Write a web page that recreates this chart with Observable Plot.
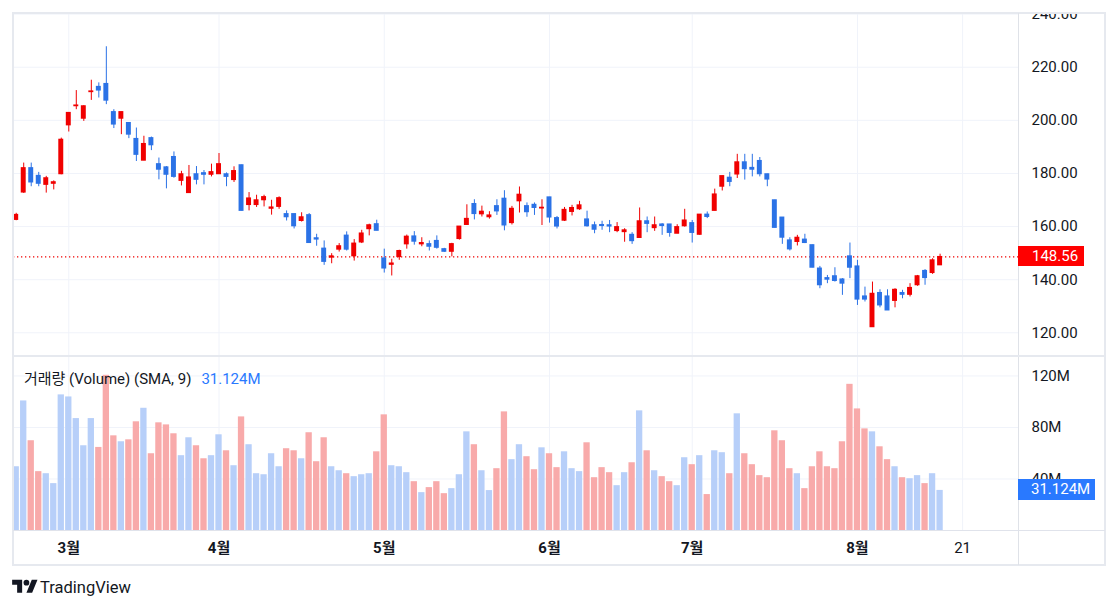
<!DOCTYPE html>
<html><head><meta charset="utf-8">
<script src="https://cdn.jsdelivr.net/npm/d3@7"></script>
<script src="https://cdn.jsdelivr.net/npm/@observablehq/plot@0.6"></script>
<style>
body{margin:0;background:#fff;}
#wrap{position:relative;width:1118px;height:609px;overflow:hidden;font-family:Roboto,"Noto Sans CJK KR",sans-serif;color:#131722;background:#fff;}
.abs{position:absolute;}
#wrap svg{overflow:hidden;}
</style></head><body><div id="wrap"></div>
<script>
const dates = ["2024-02-21","2024-02-22","2024-02-23","2024-02-26","2024-02-27","2024-02-28","2024-02-29",
"2024-03-01","2024-03-04","2024-03-05","2024-03-06","2024-03-07","2024-03-08","2024-03-11","2024-03-12","2024-03-13","2024-03-14","2024-03-15","2024-03-18","2024-03-19","2024-03-20","2024-03-21","2024-03-22","2024-03-25","2024-03-26","2024-03-27","2024-03-28",
"2024-04-01","2024-04-02","2024-04-03","2024-04-04","2024-04-05","2024-04-08","2024-04-09","2024-04-10","2024-04-11","2024-04-12","2024-04-15","2024-04-16","2024-04-17","2024-04-18","2024-04-19","2024-04-22","2024-04-23","2024-04-24","2024-04-25","2024-04-26","2024-04-29","2024-04-30",
"2024-05-01","2024-05-02","2024-05-03","2024-05-06","2024-05-07","2024-05-08","2024-05-09","2024-05-10","2024-05-13","2024-05-14","2024-05-15","2024-05-16","2024-05-17","2024-05-20","2024-05-21","2024-05-22","2024-05-23","2024-05-24","2024-05-28","2024-05-29","2024-05-30","2024-05-31",
"2024-06-03","2024-06-04","2024-06-05","2024-06-06","2024-06-07","2024-06-10","2024-06-11","2024-06-12","2024-06-13","2024-06-14","2024-06-17","2024-06-18","2024-06-20","2024-06-21","2024-06-24","2024-06-25","2024-06-26","2024-06-27","2024-06-28",
"2024-07-01","2024-07-02","2024-07-03","2024-07-05","2024-07-08","2024-07-09","2024-07-10","2024-07-11","2024-07-12","2024-07-15","2024-07-16","2024-07-17","2024-07-18","2024-07-19","2024-07-22","2024-07-23","2024-07-24","2024-07-25","2024-07-26","2024-07-29","2024-07-30","2024-07-31",
"2024-08-01","2024-08-02","2024-08-05","2024-08-06","2024-08-07","2024-08-08","2024-08-09","2024-08-12","2024-08-13","2024-08-14","2024-08-15","2024-08-16"];

const open = [162.5,172.8,182.0,179.1,175.7,176.1,179.7,
198.1,205.3,200.6,210.6,212.6,213.7,203.1,200.6,199.0,193.0,184.8,193.3,183.5,182.3,186.2,177.2,172.6,179.7,180.1,179.5,
179.7,179.7,177.5,183.1,168.1,168.1,169.9,166.7,167.4,164.7,164.7,162.1,164.3,155.6,151.7,148.3,151.3,156.6,148.8,154.0,159.0,160.9,
148.0,145.6,148.5,153.3,156.3,153.3,153.4,154.6,151.5,150.5,155.3,160.6,168.5,164.6,163.5,167.7,170.5,161.3,169.5,167.7,168.2,166.8,
171.0,163.2,162.2,165.5,166.5,162.7,160.5,160.6,160.5,158.3,157.9,156.9,155.7,162.0,159.4,160.8,160.8,157.3,160.1,
161.3,156.9,164.5,165.9,175.0,178.4,179.6,184.2,182.1,184.7,179.7,169.9,163.4,154.8,154.2,155.1,153.0,144.2,140.6,141.3,140.1,148.8,
145.0,133.7,122.1,135.0,133.7,132.0,135.0,134.3,137.9,143.3,142.5,145.4];

const high = [165.0,183.9,183.9,180.4,178.9,177.2,193.3,
202.8,211.2,205.5,215.1,214.1,227.7,204.0,203.1,199.0,197.1,194.0,193.7,185.8,182.6,188.1,180.8,183.0,182.6,181.1,183.5,
187.5,180.2,182.5,183.1,172.8,171.8,171.8,169.9,171.2,165.9,164.7,165.2,164.9,157.1,154.6,149.8,153.6,158.0,155.1,158.6,160.9,162.4,
151.5,147.7,151.1,156.8,158.1,155.8,154.6,156.5,151.8,153.7,160.0,168.2,170.1,167.7,165.6,170.1,173.5,167.6,174.9,168.9,168.9,170.1,
171.0,163.8,167.2,168.0,169.5,165.8,161.7,162.0,162.3,161.5,159.2,157.7,167.0,163.6,163.6,161.1,160.8,160.7,166.5,
162.3,164.5,165.5,174.1,179.0,180.4,187.2,187.2,187.2,186.0,179.7,169.9,163.4,155.8,156.7,157.1,153.0,145.0,141.6,144.5,140.4,153.8,
147.3,137.2,139.1,136.2,136.2,136.6,136.0,138.5,141.6,143.8,147.9,149.6];

const low = [162.2,172.5,175.0,175.0,172.6,173.8,179.5,
195.6,204.0,199.6,207.5,208.4,205.9,196.9,194.6,193.1,184.5,184.8,188.6,177.6,174.2,178.2,175.3,172.6,175.7,175.7,178.7,
179.7,175.0,176.6,165.9,165.9,167.2,167.4,164.3,166.5,162.1,159.1,161.7,153.8,152.6,145.4,146.0,150.4,150.8,147.0,153.6,156.5,158.4,
142.5,141.4,147.3,151.5,153.0,152.4,150.8,151.5,150.3,148.6,154.9,160.4,162.5,163.6,162.8,164.2,158.4,160.6,165.1,163.5,164.2,160.4,
161.3,159.1,161.9,164.0,166.1,159.8,157.3,158.6,157.7,157.7,154.1,153.3,155.7,157.7,158.2,156.7,156.0,157.3,159.8,
153.8,156.7,163.0,165.9,173.4,175.0,178.1,177.5,178.7,178.7,175.0,159.5,153.3,150.8,152.7,153.6,144.5,136.6,138.5,139.1,134.1,140.4,
130.3,131.6,122.1,129.4,128.4,129.4,132.8,133.5,137.5,137.9,142.0,145.4];

const close = [164.4,182.0,176.6,176.1,178.2,176.7,192.7,
202.8,205.6,205.3,210.9,211.2,207.4,198.4,203.1,194.6,187.0,191.1,190.6,181.4,179.5,178.7,179.7,178.5,177.6,179.5,180.5,
183.5,178.7,180.9,165.9,170.6,169.9,171.1,167.2,170.7,163.5,160.1,163.5,153.8,155.1,146.7,148.8,152.6,151.3,153.6,157.4,160.5,158.4,
144.2,146.1,150.8,156.2,154.3,153.8,152.4,152.0,150.5,153.4,160.0,162.9,164.7,165.6,164.2,165.7,160.4,166.7,172.0,165.4,167.0,167.1,
163.4,160.0,166.3,167.0,168.0,160.1,158.8,160.2,160.0,159.8,158.6,154.5,162.0,161.0,160.5,160.2,157.6,159.8,162.3,
157.6,164.5,163.6,172.1,179.0,176.8,184.2,181.6,181.4,179.7,177.7,159.5,155.8,151.4,155.8,153.8,144.5,137.9,140.0,139.5,138.5,144.5,
132.5,132.5,134.7,130.3,128.4,136.2,134.3,136.9,141.3,140.6,147.3,148.56];

// volume in millions
const volume = [49.5,100.6,69.7,45.7,44.1,36.4,105.3,
103.7,86.9,65.8,86.9,64.5,120.5,73.5,68.9,70.4,84.4,94.9,59.6,83.6,82.0,75.1,58.1,72.0,65.8,55.7,58.1,
74.3,61.9,50.3,88.2,66.6,44.1,43.3,59.6,49.5,63.5,61.9,55.7,75.9,53.4,72.0,49.5,46.4,44.1,41.8,43.3,44.1,61.1,
89.8,50.3,49.5,44.9,37.9,29.4,33.3,37.9,28.6,32.5,43.3,76.6,66.6,46.4,31.0,48.0,92.1,55.0,66.6,57.3,47.2,64.2,
59.6,48.8,61.1,48.0,45.7,68.1,41.0,48.8,44.9,34.8,44.9,52.6,92.9,61.9,46.4,41.8,37.9,34.8,56.5,
51.1,58.1,27.9,61.9,60.4,44.1,90.6,59.6,51.1,42.6,41.0,77.4,69.7,48.0,44.1,32.5,49.5,61.1,49.5,48.0,68.9,113.5,
94.4,78.9,76.6,65.0,55.0,49.5,41.0,40.2,42.6,36.4,44.1,31.124];

const futureDates = ["2024-08-19","2024-08-20","2024-08-21"];
const tickDates = ["2024-03-01","2024-04-01","2024-05-01","2024-06-03","2024-07-01","2024-08-01","2024-08-21"];
const tickLabels = ["3월","4월","5월","6월","7월","8월","21"];
const priceTicks = [120,140,160,180,200,220,240];
const volumeTicks = [40,80,120];
const legendTitle = "거래량 (Volume) (SMA, 9)";
const smaValue = "31.124M";

// ---- build ----
const UP = "#f00000", DOWN = "#2b72e6";
const VUP = "#b7cff9", VDOWN = "#f8aaaa";
const GRID = "#f0f3fa";
const FONT = 'Roboto,"Noto Sans CJK KR",sans-serif';

const bars = dates.map((d,i)=>({i, date:d, o:open[i], h:high[i], l:low[i], c:close[i], v:volume[i], up: close[i] >= open[i]}));
const allDates = dates.concat(futureDates);
const tickIdx = tickDates.map(d => allDates.indexOf(d));
const lastClose = close[close.length-1];

const W = 1118;
const xDom = [-0.36, 133.44];
const wrap = document.getElementById("wrap");

const price = Plot.plot({
  width: W, height: 343, marginLeft: 13, marginRight: 100, marginTop: 0, marginBottom: 0,
  x: {type: "linear", domain: xDom, axis: null, label: null},
  y: {domain: [111.08, 240.22], axis: null, label: null},
  style: {fontFamily: FONT, fontSize: "15px", background: "transparent", color: "#131722"},
  marks: [
    Plot.gridX(tickIdx, {stroke: GRID, strokeOpacity: 1}),
    Plot.gridY(priceTicks, {stroke: GRID, strokeOpacity: 1}),
    Plot.axisY(priceTicks, {anchor: "right", label: null, tickSize: 0, tickPadding: 13, tickFormat: d3.format(".2f"), fill: "#131722"}),
    Plot.ruleY([lastClose], {stroke: UP, strokeWidth: 1.3, strokeDasharray: "1.3,2.7"}),
    Plot.ruleX(bars, {x: "i", y1: "l", y2: "h", stroke: d => d.up ? UP : DOWN, strokeWidth: 1}),
    Plot.rect(bars, {x1: d => d.i - 0.33, x2: d => d.i + 0.33, y1: d => Math.min(d.o, d.c), y2: d => Math.max(d.o, d.c),
      fill: d => d.up ? UP : DOWN, insetTop: -0.5, insetBottom: -0.5})
  ]
});
price.style.position = "absolute"; price.style.left = "0px"; price.style.top = "13px";
wrap.appendChild(price);

const vol = Plot.plot({
  width: W, height: 209, marginLeft: 13, marginRight: 100, marginTop: 0, marginBottom: 35,
  x: {type: "linear", domain: xDom, axis: null, label: null},
  y: {domain: [0, 135.1], axis: null, label: null},
  style: {fontFamily: FONT, fontSize: "15px", background: "transparent", color: "#131722"},
  marks: [
    Plot.gridX(tickIdx, {stroke: GRID, strokeOpacity: 1}),
    Plot.gridY(volumeTicks, {stroke: GRID, strokeOpacity: 1}),
    Plot.axisY(volumeTicks, {anchor: "right", label: null, tickSize: 0, tickPadding: 13, tickFormat: d => d + "M", fill: "#131722"}),
    Plot.axisX(tickIdx, {anchor: "bottom", label: null, tickSize: 0, tickPadding: 12, tickFormat: d => tickLabels[tickIdx.indexOf(d)], fill: "#131722"}),
    Plot.rectY(bars, {x1: d => d.i - 0.42, x2: d => d.i + 0.42, y: "v", fill: d => d.up ? VUP : VDOWN})
  ]
});
vol.style.position = "absolute"; vol.style.left = "0px"; vol.style.top = "356px";
wrap.appendChild(vol);
d3.select(vol).selectAll("text").filter(function(){ return /월/.test(this.textContent); }).attr("font-weight", "bold");

// overlays: frame & separators
function box(css){ const d = document.createElement("div"); d.className = "abs"; Object.assign(d.style, css); wrap.appendChild(d); return d; }
box({left:"12px", top:"12px", width:"1094px", height:"554px", border:"2px solid #e6e9ef", boxSizing:"border-box"});
box({left:"1018px", top:"13px", width:"1px", height:"552px", background:"#dfe2e8"});
box({left:"13px", top:"355px", width:"1092px", height:"2px", background:"#e6e9ef"});
box({left:"13px", top:"530px", width:"1092px", height:"1px", background:"#e0e3eb"});

// price label
const py = 13 + price.scale("y").apply(lastClose);
const pl = box({left:"1018px", top:(py - 10) + "px", width:"66px", height:"20px", background:"#ff0000", color:"#fff",
  font:"15px " + FONT, lineHeight:"20px", paddingLeft:"14px", boxSizing:"border-box"});
pl.textContent = d3.format(".2f")(lastClose);

// volume label
const vy = 356 + vol.scale("y").apply(volume[volume.length-1]);
const vl = box({left:"1018px", top:(vy - 10.5) + "px", width:"77px", height:"21px", background:"#2979ff", color:"#fff",
  font:"15px " + FONT, lineHeight:"21px", paddingLeft:"13px", boxSizing:"border-box"});
vl.textContent = smaValue;

// legend
const lg = box({left:"24px", top:"367px", font:"15px " + FONT, color:"#131722", whiteSpace:"nowrap"});
lg.innerHTML = legendTitle + '<span style="color:#2979ff;margin-left:10px">' + smaValue + '</span>';

// TradingView logo
const logo = box({left:"12px", top:"577px", whiteSpace:"nowrap", display:"flex", alignItems:"center"});
logo.innerHTML = '<svg width="26" height="20" viewBox="0 0 36 28"><path fill="#131722" d="M14 22H7V11H0V4h14v18zM28 22h-8l7.5-18h8L28 22z"/><circle fill="#131722" cx="20" cy="8" r="4"/></svg>' +
  '<span style="font:16.5px ' + FONT.replace(/"/g,"'") + ';color:#131722;margin-left:2px">TradingView</span>';
</script></body></html>
